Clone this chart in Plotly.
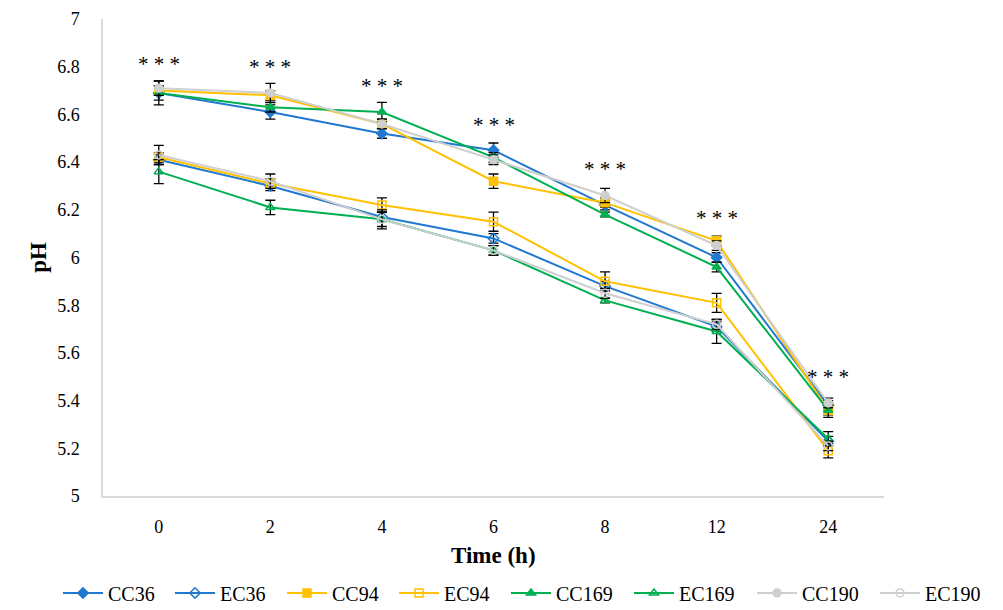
import plotly.graph_objects as go

times = ["0", "2", "4", "6", "8", "12", "24"]

CC36 = [6.69, 6.61, 6.52, 6.45, 6.22, 6.00, 5.38]
EC36 = [6.41, 6.30, 6.17, 6.08, 5.88, 5.71, 5.23]
CC94 = [6.70, 6.68, 6.56, 6.32, 6.23, 6.07, 5.36]
EC94 = [6.42, 6.31, 6.22, 6.15, 5.90, 5.81, 5.19]
CC169 = [6.69, 6.63, 6.61, 6.42, 6.18, 5.96, 5.36]
EC169 = [6.36, 6.21, 6.16, 6.03, 5.82, 5.69, 5.24]
CC190 = [6.71, 6.69, 6.56, 6.41, 6.26, 6.05, 5.39]
EC190 = [6.43, 6.32, 6.16, 6.03, 5.85, 5.72, 5.21]

err_CC36 = [0.05, 0.03, 0.02, 0.03, 0.02, 0.02, 0.02]
err_EC36 = [0.02, 0.02, 0.02, 0.02, 0.02, 0.02, 0.02]
err_CC94 = [0.02, 0.02, 0.02, 0.03, 0.02, 0.02, 0.02]
err_EC94 = [0.02, 0.02, 0.03, 0.04, 0.04, 0.04, 0.03]
err_CC169 = [0.03, 0.02, 0.04, 0.02, 0.01, 0.02, 0.03]
err_EC169 = [0.05, 0.03, 0.03, 0.02, 0.01, 0.05, 0.03]
err_CC190 = [0.03, 0.04, 0.02, 0.02, 0.03, 0.02, 0.02]
err_EC190 = [0.04, 0.03, 0.04, 0.02, 0.02, 0.02, 0.02]

star_y = [6.81, 6.80, 6.72, 6.556, 6.37, 6.167, 5.50]

BLUE = "#2078D0"
YELLOW = "#FFC000"
GREEN = "#00B050"
GRAY = "#CFCFCF"

series = [
    ("CC36", CC36, err_CC36, BLUE, "diamond", "legend"),
    ("EC36", EC36, err_EC36, BLUE, "diamond-open", "legend"),
    ("CC94", CC94, err_CC94, YELLOW, "square", "legend"),
    ("EC94", EC94, err_EC94, YELLOW, "square-open", "legend"),
    ("CC169", CC169, err_CC169, GREEN, "triangle-up", "legend2"),
    ("EC169", EC169, err_EC169, GREEN, "triangle-up-open", "legend2"),
    ("CC190", CC190, err_CC190, GRAY, "circle", "legend2"),
    ("EC190", EC190, err_EC190, GRAY, "circle-open", "legend2"),
]

FONT = "Liberation Serif"

fig = go.Figure()
for name, vals, errs, color, sym, lg in series:
    fig.add_trace(go.Scatter(
        x=times, y=vals, name=name, mode="lines+markers", legend=lg,
        line=dict(color=color, width=2),
        marker=dict(symbol=sym, size=8, color=color,
                    line=dict(color=color, width=1.5)),
        error_y=dict(type="data", array=errs, visible=True,
                     color="black", thickness=1.3, width=5),
    ))

for i, sy in enumerate(star_y):
    fig.add_annotation(x=i, y=sy, text="* * *", showarrow=False,
                       font=dict(family=FONT, size=21, color="black"),
                       yanchor="middle")

fig.add_annotation(xref="paper", yref="paper", x=0.5, y=-0.125,
                   text="<b>Time (h)</b>", showarrow=False,
                   xanchor="center", yanchor="middle",
                   font=dict(family=FONT, size=23, color="black"))
fig.add_annotation(xref="paper", yref="paper", x=-0.083, y=0.5,
                   text="<b>pH</b>", showarrow=False, textangle=-90,
                   xanchor="center", yanchor="middle",
                   font=dict(family=FONT, size=23, color="black"))

legend_common = dict(orientation="h", xanchor="left",
                     xref="container", yref="container", y=0.028,
                     yanchor="middle", font=dict(family=FONT, size=20),
                     itemwidth=40, tracegroupgap=0, bgcolor="rgba(0,0,0,0)")

fig.update_layout(
    width=1003, height=610,
    margin=dict(l=103, r=119, t=19, b=114, autoexpand=False),
    paper_bgcolor="white", plot_bgcolor="white",
    font=dict(family=FONT, size=17, color="black"),
    showlegend=True,
    legend=dict(**legend_common, x=58 / 1003, entrywidth=57),
    legend2=dict(**legend_common, x=506 / 1003, entrywidth=68),
)
fig.update_xaxes(
    type="category", range=[-0.5, 6.5],
    showline=True, linecolor="#D9D9D9", linewidth=1.5,
    showgrid=False, zeroline=False,
    ticks="outside", ticklen=14, tickcolor="rgba(0,0,0,0)",
    tickfont=dict(family=FONT, size=18),
)
fig.update_yaxes(
    range=[5, 7], dtick=0.2,
    showline=True, linecolor="#D9D9D9", linewidth=1.5,
    showgrid=False, zeroline=False,
    ticks="outside", ticklen=18, tickcolor="rgba(0,0,0,0)",
    tickfont=dict(family=FONT, size=18),
)

fig.write_html("out.html")
